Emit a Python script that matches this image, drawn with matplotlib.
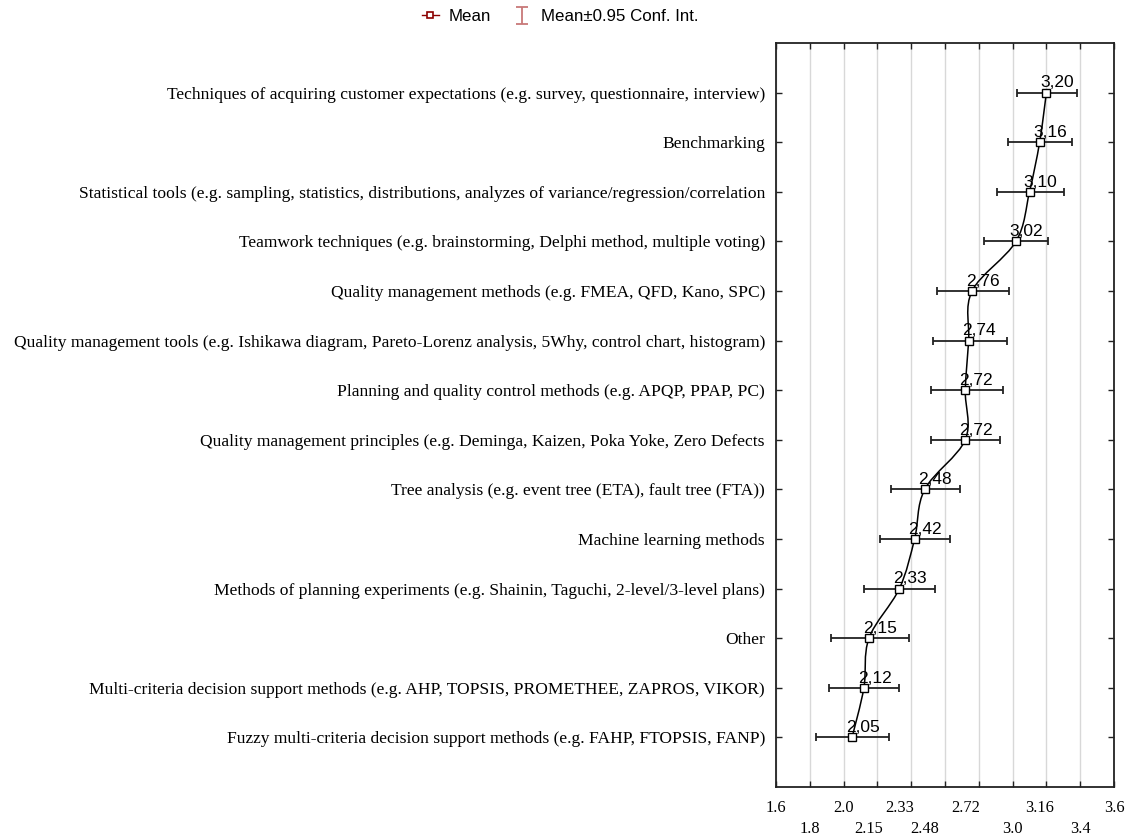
import numpy as np
import matplotlib
matplotlib.use("Agg")
import matplotlib.pyplot as plt
from matplotlib.lines import Line2D
from matplotlib.path import Path
from matplotlib.patches import PathPatch

categories = [
    "Techniques of acquiring customer expectations (e.g. survey, questionnaire, interview)",
    "Benchmarking",
    "Statistical tools (e.g. sampling, statistics, distributions, analyzes of variance/regression/correlation",
    "Teamwork techniques (e.g. brainstorming, Delphi method, multiple voting)",
    "Quality management methods (e.g. FMEA, QFD, Kano, SPC)",
    "Quality management tools (e.g. Ishikawa diagram, Pareto-Lorenz analysis, 5Why, control chart, histogram)",
    "Planning and quality control methods (e.g. APQP, PPAP, PC)",
    "Quality management principles (e.g. Deminga, Kaizen, Poka Yoke, Zero Defects",
    "Tree analysis (e.g. event tree (ETA), fault tree (FTA))",
    "Machine learning methods",
    "Methods of planning experiments (e.g. Shainin, Taguchi, 2-level/3-level plans)",
    "Other",
    "Multi-criteria decision support methods (e.g. AHP, TOPSIS, PROMETHEE, ZAPROS, VIKOR)",
    "Fuzzy multi-criteria decision support methods (e.g. FAHP, FTOPSIS, FANP)",
]
means = [3.20, 3.16, 3.10, 3.02, 2.76, 2.74, 2.72, 2.72, 2.48, 2.42, 2.33, 2.15, 2.12, 2.05]
ci_low = [3.026, 2.971, 2.910, 2.829, 2.551, 2.529, 2.515, 2.515, 2.282, 2.217, 2.123, 1.927, 1.914, 1.837]
ci_high = [3.379, 3.351, 3.302, 3.207, 2.981, 2.967, 2.943, 2.927, 2.691, 2.628, 2.541, 2.389, 2.328, 2.267]
xtick_labels = ["1.6", "1.8", "2.0", "2.15", "2.33", "2.48", "2.72", "3.0", "3.16", "3.4", "3.6"]
grid_ticks = [1.6, 1.8, 2.0, 2.2, 2.4, 2.6, 2.8, 3.0, 3.2, 3.4, 3.6]

SERIF = ["Liberation Serif", "DejaVu Serif"]
SANS = ["Liberation Sans", "DejaVu Sans"]

fig = plt.figure(figsize=(11.29, 8.36), dpi=100)
ax = fig.add_axes([776 / 1129, 49 / 836, 338 / 1129, 744 / 836])

m = np.array(means)
lo = np.array(ci_low)
hi = np.array(ci_high)
y = np.arange(len(categories))

# smooth connecting line (Catmull-Rom -> cubic Bezier through the means)
pts = np.column_stack([m, y])
verts = [tuple(pts[0])]
codes = [Path.MOVETO]
n = len(pts)
for i in range(n - 1):
    p0 = pts[i - 1] if i > 0 else pts[i]
    p1 = pts[i]
    p2 = pts[i + 1]
    p3 = pts[i + 2] if i + 2 < n else pts[i + 1]
    c1 = p1 + (p2 - p0) / 6.0
    c2 = p2 - (p3 - p1) / 6.0
    verts += [tuple(c1), tuple(c2), tuple(p2)]
    codes += [Path.CURVE4] * 3
ax.add_patch(PathPatch(Path(verts, codes), fill=False, edgecolor="black", lw=1.1, zorder=3))

ax.errorbar(m, y, xerr=[m - lo, hi - m], fmt="none", ecolor="#222222",
            elinewidth=1.3, capsize=3, capthick=1.3, zorder=2)
ax.plot(m, y, "s", mfc="white", mec="black", ms=6.3, mew=1.0, zorder=4)

for xv, yv in zip(m, y):
    ax.annotate(f"{xv:.2f}".replace(".", ","), (xv, yv), xytext=(-4.5, 3.8),
                textcoords="offset points", ha="left", va="baseline",
                fontsize=12.5, family=SANS, zorder=5)

ax.set_xlim(1.6, 3.6)
ax.set_ylim(len(categories), -1)

ax.set_yticks(y)
ax.set_yticklabels(categories, family=SERIF, fontsize=12.6)
ax.tick_params(axis="y", which="both", direction="in", length=4, width=1,
               left=True, right=True, pad=8, colors="#222222", labelcolor="black")

ax.xaxis.remove_overlapping_locs = False
ax.set_xticks(grid_ticks, minor=True)
ax.set_xticks([float(s) for s in xtick_labels])
ax.set_xticklabels(xtick_labels, family=SERIF, fontsize=11.8)
ax.tick_params(axis="x", which="major", length=0)
ax.tick_params(axis="x", which="minor", direction="in", length=4, width=1,
               top=True, bottom=True, colors="#222222")
for i, t in enumerate(ax.xaxis.get_major_ticks()):
    t.set_pad(9.5 if i % 2 == 0 else 24.5)

ax.grid(False)
ax.grid(True, which="minor", axis="x", color="#d8d8d8", lw=1.0)
ax.set_axisbelow(True)
for s in ax.spines.values():
    s.set_linewidth(1.3)
    s.set_color("#222222")

# legend
h_mean = Line2D([], [], color="#8b0000", marker="s", mfc="white", mec="#8b0000",
                ms=5, mew=1.2, lw=1.0)
eb = ax.errorbar([np.nan], [np.nan], yerr=[[0.1], [0.1]], fmt="none",
                 ecolor="#c87878", elinewidth=1.3, capsize=4, capthick=1.3)
fig.legend([h_mean, eb], ["Mean", "Mean\u00b10.95 Conf. Int."], loc="upper center",
           bbox_to_anchor=(0.496, 1.007), ncol=2, frameon=False,
           prop={"family": SANS, "size": 12.2}, handlelength=1.0,
           handletextpad=0.6, columnspacing=1.3)

fig.savefig("out.png", dpi=100)
